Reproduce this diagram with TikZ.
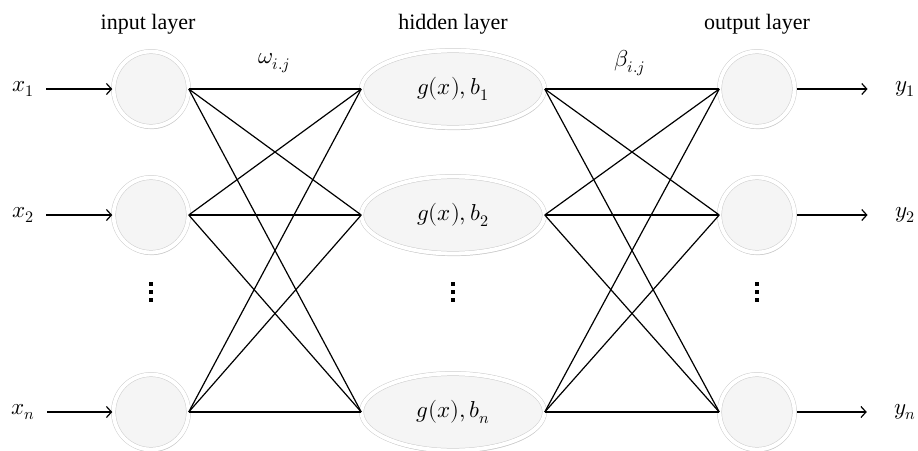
\documentclass[tikz,border=0pt]{standalone}
\usepackage{fontspec}
\usepackage{unicode-math}
\setmainfont{Liberation Serif}
\setmathfont{Latin Modern Math}
\usetikzlibrary{shadows,shapes.geometric,arrows.meta}
\begin{document}
\begin{tikzpicture}[x=1pt,y=-1pt,
  ball/.style={draw=gray!40, double=white, double distance=3.8pt, fill=gray!8, line width=0.5pt,
    drop shadow={shadow xshift=0.8pt, shadow yshift=-2.6pt, opacity=0.45, fill=gray!90}},
  neuron/.style={ball, circle, minimum size=75pt, inner sep=0pt},
  hid/.style={ball, ellipse, minimum width=183pt, minimum height=77pt, inner sep=0pt, font=\fontsize{23}{27}\selectfont},
  title/.style={font=\fontsize{22}{26}\selectfont},
  lab/.style={font=\fontsize{23}{27}\selectfont},
  conn/.style={line width=1.2pt},
  io/.style={line width=1.2pt, -{Straight Barb[length=5pt,width=11pt,line width=1.2pt]}},
  dotsq/.style={fill=black}
]
\useasboundingbox (0,0) rectangle (918,450);

% titles
\node[title] (tin) at (148,24) {input layer};
\node[title] (thid) at (453,24) {hidden layer};
\node[title] (tout) at (757,24) {output layer};
\node[lab] (w) at (274,63) {$\omega_{i.j}$};
\node[lab] (b) at (630,63) {$\beta_{i.j}$};

% input neurons
\node[neuron] (i1) at (151,89) {};
\node[neuron] (i2) at (151,215) {};
\node[neuron] (in) at (151,412) {};
% hidden neurons
\node[hid] (h1) at (453,89) {$g(x), b_1$};
\node[hid] (h2) at (453,215) {$g(x), b_2$};
\node[hid] (hn) at (453,412) {$g(x), b_n$};
% output neurons
\node[neuron] (o1) at (757,89) {};
\node[neuron] (o2) at (757,215) {};
\node[neuron] (on) at (757,412) {};

% input/output labels
\node[lab] (x1) at (23,89) {$x_1$};
\node[lab] (x2) at (23,215) {$x_2$};
\node[lab] (xn) at (23,412) {$x_n$};
\node[lab] (y1) at (905,89) {$y_1$};
\node[lab] (y2) at (905,215) {$y_2$};
\node[lab] (yn) at (905,412) {$y_n$};

\foreach \a/\b in {x1/i1,x2/i2,xn/in}
  \draw[io] ([xshift=9pt]\a.east) -- ([xshift=-1pt]\b.west);
\foreach \a/\b in {o1/y1,o2/y2,on/yn}
  \draw[io] ([xshift=2pt]\a.east) -- ([xshift=-24pt]\b.west);

% connections
\foreach \a in {i1,i2,in}
  \foreach \b in {h1,h2,hn}
    \draw[conn] (\a.east) -- (\b.west);
\foreach \a in {h1,h2,hn}
  \foreach \b in {o1,o2,on}
    \draw[conn] (\a.east) -- (\b.west);

% vertical dots
\foreach \cx in {151,453,757}
  \foreach \cy in {284,292,300}
    \fill[dotsq] (\cx-2.4,\cy-2.4) rectangle (\cx+2.4,\cy+2.4);
\end{tikzpicture}
\end{document}
